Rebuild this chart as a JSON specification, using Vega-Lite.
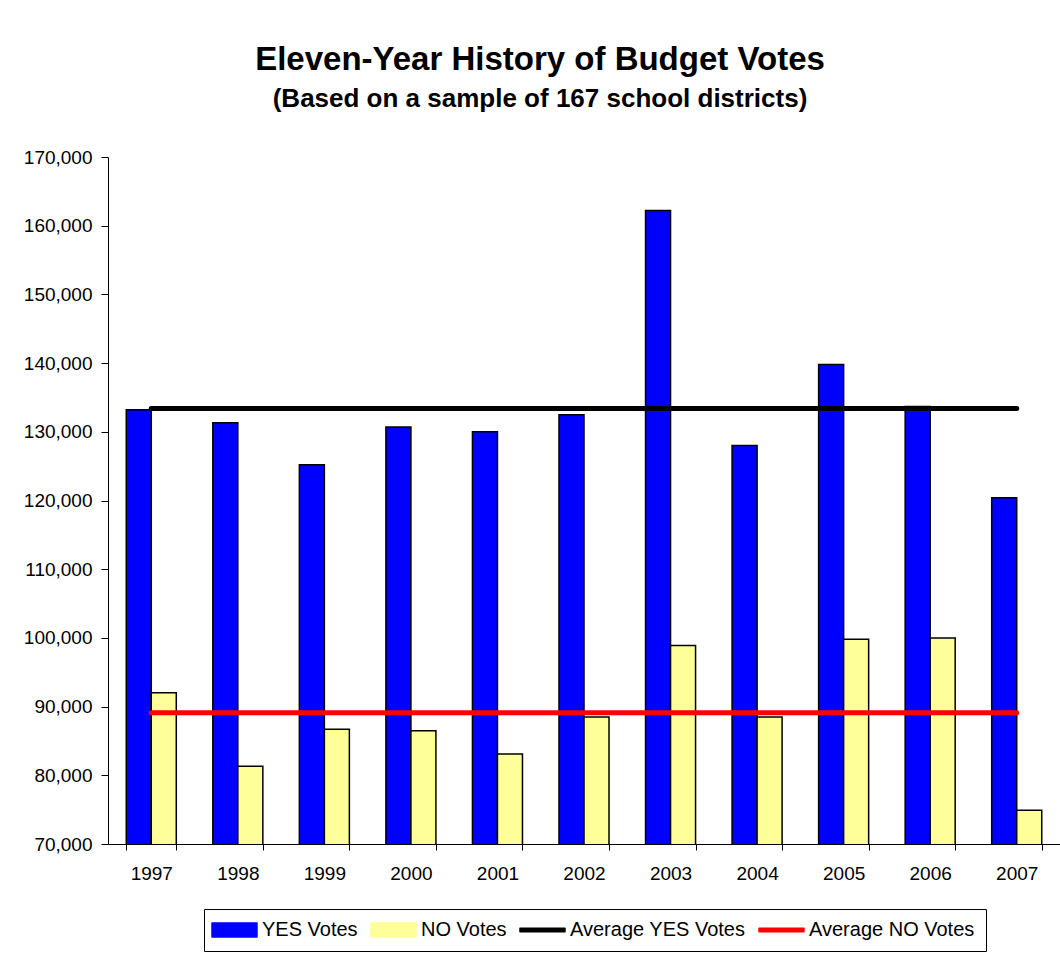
{
  "$schema": "https://vega.github.io/schema/vega-lite/v6.json",
  "autosize": "none",
  "width": 952,
  "height": 687,
  "padding": {"left": 108, "top": 157, "right": 0, "bottom": 126},
  "background": "white",
  "config": {
    "font": "Liberation Sans",
    "view": {"stroke": null}
  },
  "title": {
    "text": "Eleven-Year History of Budget Votes",
    "subtitle": "(Based on a sample of 167 school districts)",
    "fontSize": 33,
    "subtitleFontSize": 26,
    "fontWeight": "bold",
    "subtitleFontWeight": "bold",
    "color": "black",
    "subtitleColor": "black",
    "anchor": "middle",
    "frame": "group",
    "dx": -44,
    "offset": 36,
    "subtitlePadding": 9
  },
  "data": {
    "values": [
      {"year": "1997", "series": "YES Votes", "votes": 133200},
      {"year": "1998", "series": "YES Votes", "votes": 131300},
      {"year": "1999", "series": "YES Votes", "votes": 125200},
      {"year": "2000", "series": "YES Votes", "votes": 130700},
      {"year": "2001", "series": "YES Votes", "votes": 130000},
      {"year": "2002", "series": "YES Votes", "votes": 132500},
      {"year": "2003", "series": "YES Votes", "votes": 162200},
      {"year": "2004", "series": "YES Votes", "votes": 128000},
      {"year": "2005", "series": "YES Votes", "votes": 139800},
      {"year": "2006", "series": "YES Votes", "votes": 133700},
      {"year": "2007", "series": "YES Votes", "votes": 120400},
      {"year": "1997", "series": "NO Votes", "votes": 92000},
      {"year": "1998", "series": "NO Votes", "votes": 81300},
      {"year": "1999", "series": "NO Votes", "votes": 86700},
      {"year": "2000", "series": "NO Votes", "votes": 86500},
      {"year": "2001", "series": "NO Votes", "votes": 83100},
      {"year": "2002", "series": "NO Votes", "votes": 88500},
      {"year": "2003", "series": "NO Votes", "votes": 98900},
      {"year": "2004", "series": "NO Votes", "votes": 88500},
      {"year": "2005", "series": "NO Votes", "votes": 99800},
      {"year": "2006", "series": "NO Votes", "votes": 100000},
      {"year": "2007", "series": "NO Votes", "votes": 74900},
      {"year": "1997", "series": "Average YES Votes", "votes": 133400},
      {"year": "2007", "series": "Average YES Votes", "votes": 133400},
      {"year": "1997", "series": "Average NO Votes", "votes": 89100},
      {"year": "2007", "series": "Average NO Votes", "votes": 89100}
    ]
  },
  "encoding": {
    "x": {
      "field": "year",
      "type": "nominal",
      "sort": null,
      "scale": {"type": "band", "domain": ["1997","1998","1999","2000","2001","2002","2003","2004","2005","2006","2007"], "paddingInner": 0.422, "paddingOuter": 0.211},
      "axis": {
        "title": null,
        "labelAngle": 0,
        "tickBand": "extent",
        "tickSize": 6,
        "labelPadding": 14,
        "labelFontSize": 19,
        "labelColor": "black",
        "domainColor": "black",
        "tickColor": "black",
        "grid": false
      }
    },
    "y": {
      "field": "votes",
      "type": "quantitative",
      "scale": {"domain": [70000, 170000], "zero": false, "nice": false},
      "axis": {
        "title": null,
        "values": [70000, 80000, 90000, 100000, 110000, 120000, 130000, 140000, 150000, 160000, 170000],
        "format": ",d",
        "tickSize": 7,
        "labelPadding": 9,
        "labelFontSize": 19,
        "labelColor": "black",
        "domainColor": "black",
        "tickColor": "black",
        "grid": false
      }
    },
    "color": {
      "field": "series",
      "type": "nominal",
      "scale": {
        "domain": ["YES Votes", "NO Votes", "Average YES Votes", "Average NO Votes"],
        "range": ["#0000ff", "#ffff99", "#000000", "#ff0000"]
      },
      "legend": {
        "orient": "none",
        "legendX": 96,
        "legendY": 752,
        "direction": "horizontal",
        "title": null,
        "strokeColor": "black",
        "fillColor": "white",
        "padding": 11,
        "labelFontSize": 20,
        "labelColor": "black",
        "labelOffset": 27,
        "columnPadding": 12,
        "symbolSize": 196,
        "symbolStrokeWidth": 1.5,
        "labelLimit": 400,
        "encode": {
          "symbols": {
            "update": {
              "shape": {"signal": "datum.value === 'YES Votes' || datum.value === 'NO Votes' ? 'M-1.857,-1H4.571V1H-1.857Z' : 'M-1.857,-0.25H4.571V0.25H-1.857Z'"},
              "fill": {"signal": "datum.value === 'YES Votes' ? '#0000ff' : datum.value === 'NO Votes' ? '#ffff99' : datum.value === 'Average YES Votes' ? '#000000' : '#ff0000'"},
              "stroke": {"signal": "datum.value === 'Average NO Votes' ? '#ff0000' : '#000000'"},
              "strokeJoin": {"value": "round"},
              "opacity": {"value": 1},
              "fillOpacity": {"value": 1},
              "strokeOpacity": {"value": 1}
            }
          }
        }
      }
    }
  },
  "layer": [
    {
      "transform": [{"filter": "datum.series === 'YES Votes' || datum.series === 'NO Votes'"}],
      "mark": {"type": "bar", "stroke": "black", "strokeWidth": 1.5, "clip": true},
      "encoding": {
        "xOffset": {"field": "series", "type": "nominal", "sort": ["YES Votes", "NO Votes"], "scale": {"paddingInner": 0, "paddingOuter": 0}}
      }
    },
    {
      "transform": [{"filter": "datum.series === 'Average YES Votes' || datum.series === 'Average NO Votes'"}],
      "mark": {"type": "line", "strokeWidth": 5, "strokeCap": "round"},
      "encoding": {
        "detail": {"field": "series", "type": "nominal"}
      }
    }
  ]
}
